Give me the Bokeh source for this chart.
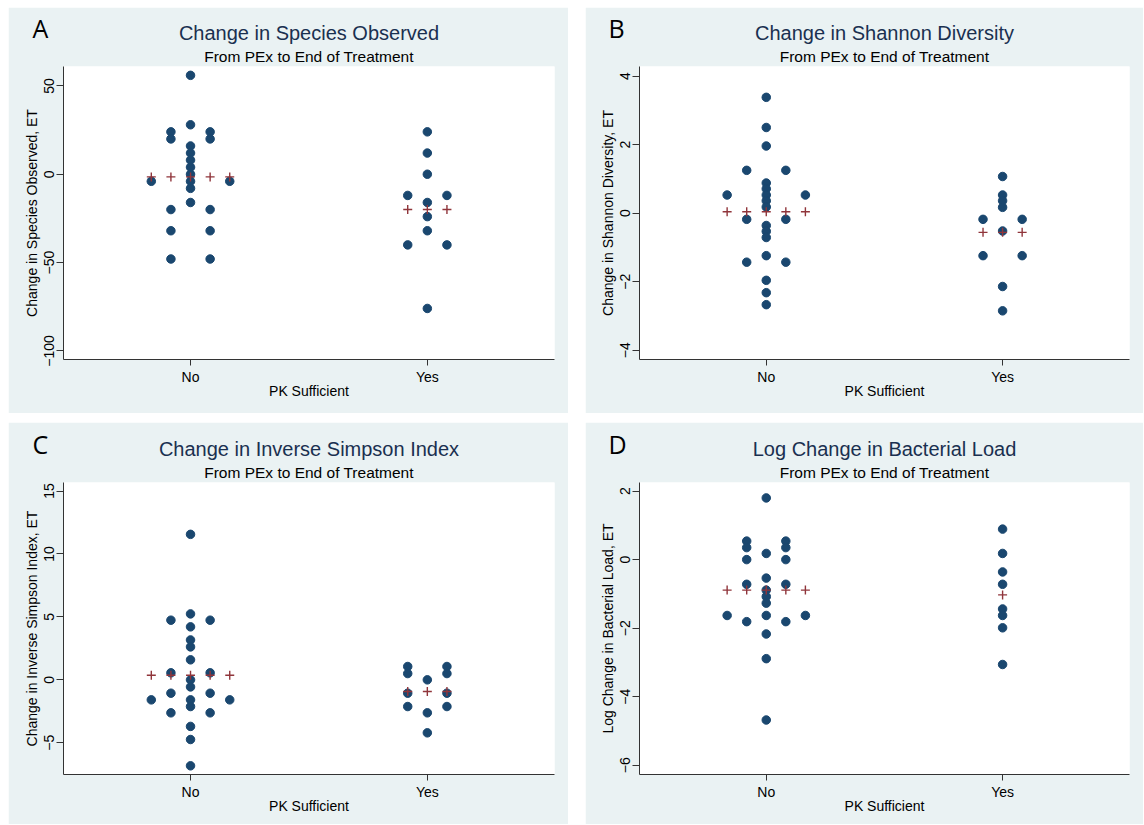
from bokeh.plotting import figure
from bokeh.models import Range1d, FixedTicker, ColumnDataSource, Title
from bokeh.layouts import row, column
from bokeh.embed import file_html
from bokeh.resources import INLINE

# ---------------- data ----------------
groups = ["No", "Yes"]
x_title = "PK Sufficient"
subtitle = "From PEx to End of Treatment"

# Panel A: Change in Species Observed
a_no = [56, 28, 16, 12, 8, 4, 0, -4, -8, -16,
        24, 20, -20, -32, -48,
        24, 20, -20, -32, -48,
        -4, -4]
a_no_slot = [0] * 10 + [-1] * 5 + [1] * 5 + [-2, 2]
a_yes = [24, 12, 0, -16, -24, -32, -76, -12, -40, -12, -40]
a_yes_slot = [0] * 7 + [-1, -1, 1, 1]
a_med = [-1.5, -20]
a_ticks = [-100, -50, 0, 50]

# Panel B: Change in Shannon Diversity
b_no = [3.38, 2.50, 1.96, 0.88, 0.71, 0.53, 0.36, 0.18, -0.36, -0.53, -0.71, -1.24, -1.96, -2.32, -2.67,
        1.25, -0.18, -1.43,
        1.25, -0.18, -1.43,
        0.53, 0.53]
b_no_slot = [0] * 15 + [-1] * 3 + [1] * 3 + [-2, 2]
b_yes = [1.07, 0.53, 0.36, 0.17, -0.52, -2.14, -2.85, -0.18, -1.24, -0.18, -1.24]
b_yes_slot = [0] * 7 + [-1, -1, 1, 1]
b_med = [0.04, -0.56]
b_ticks = [-4, -2, 0, 2, 4]

# Panel C: Change in Inverse Simpson Index
c_no = [11.56, 5.24, 4.21, 3.17, 2.62, 1.59, 0.0, -0.56, -1.59, -2.12, -3.70, -4.74, -6.83,
        4.74, 0.56, -1.06, -2.62,
        4.74, 0.56, -1.06, -2.62,
        -1.59, -1.59]
c_no_slot = [0] * 13 + [-1] * 4 + [1] * 4 + [-2, 2]
c_yes = [0.0, -2.62, -4.21, 1.06, 0.50, -1.06, -2.12, 1.06, 0.50, -1.06, -2.12]
c_yes_slot = [0] * 3 + [-1] * 4 + [1] * 4
c_med = [0.37, -0.93]
c_ticks = [-5, 0, 5, 10, 15]

# Panel D: Log Change in Bacterial Load
d_no = [1.80, 0.18, -0.54, -0.89, -1.08, -1.27, -1.63, -2.17, -2.89, -4.68,
        0.54, 0.35, 0.0, -0.72, -1.81,
        0.54, 0.35, 0.0, -0.72, -1.81,
        -1.63, -1.63]
d_no_slot = [0] * 10 + [-1] * 5 + [1] * 5 + [-2, 2]
d_yes = [0.89, 0.18, -0.36, -0.72, -1.44, -1.63, -1.99, -3.06]
d_yes_slot = [0] * 8
d_med = [-0.89, -1.03]
d_ticks = [-6, -4, -2, 0, 2]

# ---------------- style ----------------
PANEL_BG = "#eaf2f3"
DOT = "#1a476f"
CROSS = "#90353b"
TITLE_C = "#1a3050"
FONT = "Liberation Sans"
STEP = 0.0828


def make_panel(letter, title, ylabel, no_v, no_s, yes_v, yes_s, med, yr, ticks,
               w, h, bl, br, bt, bb):
    p = figure(width=w, height=h, x_range=Range1d(0.4636, 2.537), y_range=Range1d(*yr),
               output_backend="svg", toolbar_location=None,
               min_border_left=bl, min_border_right=br, min_border_top=bt, min_border_bottom=bb)
    p.background_fill_color = "white"
    p.border_fill_color = PANEL_BG
    p.outline_line_color = None
    p.grid.visible = False

    xs, ys, mx, my = [], [], [], []
    for gi, (vals, slots, m) in enumerate([(no_v, no_s, med[0]), (yes_v, yes_s, med[1])]):
        for v, s in zip(vals, slots):
            xs.append(gi + 1 + s * STEP)
            ys.append(v)
        for s in range(min(slots), max(slots) + 1):
            mx.append(gi + 1 + s * STEP)
            my.append(m)
    p.scatter(x="x", y="y", source=ColumnDataSource(dict(x=xs, y=ys)), marker="circle",
              size=8.5, fill_color=DOT, line_color=DOT)
    p.scatter(x="x", y="y", source=ColumnDataSource(dict(x=mx, y=my)), marker="cross",
              size=9, line_color=CROSS, line_width=1.4)

    for ax in (p.xaxis[0], p.yaxis[0]):
        ax.axis_line_color = "#333333"
        ax.major_tick_line_color = "#333333"
        ax.minor_tick_line_color = None
        ax.major_tick_in = 0
        ax.major_label_text_font = FONT
        ax.major_label_text_font_size = "14px"
        ax.major_label_text_color = "black"
        ax.axis_label_text_font = FONT
        ax.axis_label_text_font_size = "14px"
        ax.axis_label_text_font_style = "normal"
        ax.axis_label_text_color = "black"
    p.xaxis.ticker = FixedTicker(ticks=[1, 2])
    p.xaxis.major_label_overrides = {1: groups[0], 2: groups[1]}
    p.xaxis.major_tick_out = 6
    p.xaxis.major_label_standoff = 3
    p.xaxis.axis_label = x_title
    p.xaxis.axis_label_standoff = -5
    p.yaxis.ticker = FixedTicker(ticks=ticks)
    p.yaxis.major_tick_out = 7
    p.yaxis.major_label_orientation = "vertical"
    p.yaxis.major_label_standoff = 2
    p.yaxis.axis_label = ylabel
    p.yaxis.axis_label_standoff = 2

    p.add_layout(Title(text=subtitle, align="center", text_font=FONT, text_font_size="15.5px",
                       text_color="black", text_font_style="normal", standoff=3), "above")
    p.add_layout(Title(text=title, align="center", text_font=FONT, text_font_size="20px",
                       text_color=TITLE_C, text_font_style="normal", standoff=1), "above")
    p.add_layout(Title(text=letter, align="left", offset=-31, text_font="Open Sans",
                       text_font_size="25px", text_color="black", text_font_style="normal",
                       standoff=-50), "above")
    return p


pA = make_panel("A", "Change in Species Observed", "Change in Species Observed, ET",
                a_no, a_no_slot, a_yes, a_yes_slot, a_med, (-104.9, 61.0), a_ticks,
                560, 406, 55, 14, 59, 54)
pB = make_panel("B", "Change in Shannon Diversity", "Change in Shannon Diversity, ET",
                b_no, b_no_slot, b_yes, b_yes_slot, b_med, (-4.27, 4.28), b_ticks,
                558, 406, 54, 14, 59, 54)
pC = make_panel("C", "Change in Inverse Simpson Index", "Change in Inverse Simpson Index, ET",
                c_no, c_no_slot, c_yes, c_yes_slot, c_med, (-7.52, 15.68), c_ticks,
                560, 402, 55, 14, 60, 50)
pD = make_panel("D", "Log Change in Bacterial Load", "Log Change in Bacterial Load, ET",
                d_no, d_no_slot, d_yes, d_yes_slot, d_med, (-6.27, 2.25), d_ticks,
                558, 402, 54, 14, 60, 50)

layout = column(row(pA, pB, spacing=17), row(pC, pD, spacing=17), spacing=9,
                margin=(7, 0, 0, 8))

open("out.html", "w").write(file_html(layout, INLINE))
